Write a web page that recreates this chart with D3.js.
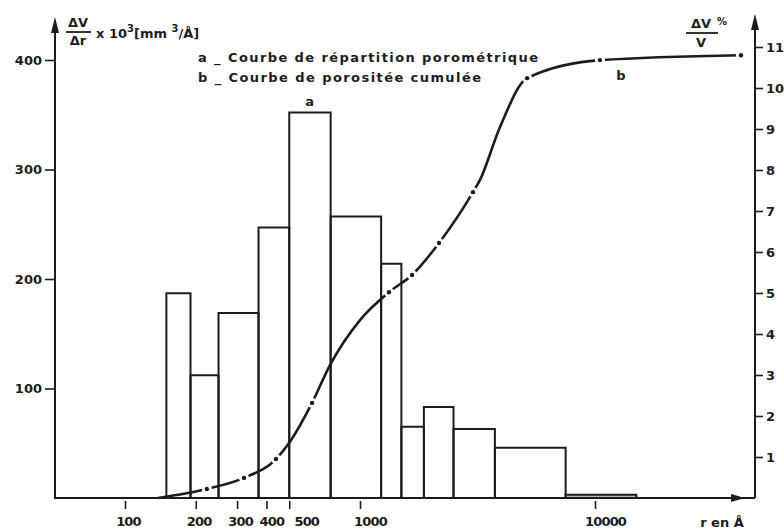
<!DOCTYPE html>
<html>
<head>
<meta charset="utf-8">
<script src="https://cdn.jsdelivr.net/npm/d3@7"></script>
<style>
  body { margin: 0; background: #fff; }
  text { font-family: "DejaVu Sans", sans-serif; fill: #1c1c1c; font-weight: bold; }
</style>
</head>
<body>
<div id="chart"></div>
<script>
// histogram bins (r en Å) and heights (ΔV/Δr x 10^3)
const binEdges = [150, 190, 250, 370, 500, 750, 1230, 1500, 1870, 2500, 3750, 7500, 15000]
const barValues = [187, 112, 169, 247, 352, 257, 214, 65, 83, 63, 46, 3]
const shadedBar = 11

// cumulative porosity curve (ΔV/V %)
const curveR = [138, 223, 321, 439, 499, 625, 745, 1000, 1328, 1665, 2169, 3025, 3241, 3943, 5140, 10500, 41800]
const curveV = [0, 0.22, 0.49, 0.95, 1.34, 2.32, 3.24, 4.34, 5.02, 5.44, 6.22, 7.46, 7.76, 9.05, 10.24, 10.68, 10.80]
const curveDots = [223, 321, 439, 625, 1328, 1665, 2169, 3025, 5140, 10500, 41800]

const xTicks = [100, 200, 300, 400, 500, 1000, 10000]
const leftTicks = [100, 200, 300, 400]
const rightTicks = [1, 2, 3, 4, 5, 6, 7, 8, 9, 10, 11]

const width = 784
const height = 529
const ink = "#1c1c1c"

const svg = d3.select("#chart")
  .append("svg")
  .attr("width", width)
  .attr("height", height)

const x = d3.scaleLog().domain([100, 10000]).range([125, 595])
const yL = d3.scaleLinear().domain([0, 400]).range([498, 60])
const yR = d3.scaleLinear().domain([0, 11]).range([498, 47])

const axisLeftX = 55
const axisRightX = 755

// curve b
const pts = curveR.map((r, i) => [x(r), yR(curveV[i])])
const line = d3.line().curve(d3.curveMonotoneX)
svg.append("path")
  .attr("d", line(pts))
  .attr("fill", "none")
  .attr("stroke", ink)
  .attr("stroke-width", 2.6)

const dotPts = curveDots.map(r => [x(r), yR(curveV[curveR.indexOf(r)])])
svg.selectAll(".halo").data(dotPts).enter().append("circle")
  .attr("cx", d => d[0]).attr("cy", d => d[1]).attr("r", 5)
  .attr("fill", "#fff")
svg.selectAll(".dot").data(dotPts).enter().append("circle")
  .attr("cx", d => d[0]).attr("cy", d => d[1]).attr("r", 2.2)
  .attr("fill", ink)

// bars a
const bins = barValues.map((v, i) => ({ x0: binEdges[i], x1: binEdges[i + 1], v, i }))
svg.selectAll(".bar").data(bins).enter().append("path")
  .attr("d", d => `M${x(d.x0)},${yL(0)}V${yL(d.v)}H${x(d.x1)}V${yL(0)}`)
  .attr("fill", d => d.i === shadedBar ? "#b8b8b8" : "none")
  .attr("stroke", ink)
  .attr("stroke-width", 2)

// axes lines
svg.append("path")
  .attr("d", `M${axisLeftX},22V498H${axisRightX}M${axisRightX},498V20`)
  .attr("fill", "none")
  .attr("stroke", ink)
  .attr("stroke-width", 2)

// arrows
svg.append("path").attr("d", `M${axisLeftX},17L${axisLeftX - 4},33L${axisLeftX + 4},33Z`).attr("fill", ink)
svg.append("path").attr("d", `M${axisRightX},14L${axisRightX - 4},30L${axisRightX + 4},30Z`).attr("fill", ink)
svg.append("path").attr("d", `M745,498L731,494L731,502Z`).attr("fill", ink)

function styleAxis(g) {
  g.select(".domain").remove()
  g.selectAll("line").attr("stroke", ink).attr("stroke-width", 1.6)
  g.selectAll("text").attr("font-size", 13).attr("fill", ink)
    .style("font-family", "'DejaVu Sans', sans-serif").style("font-weight", "bold")
}

// hand-lettered labels sit a little right of their ticks
const labelShift = d => d === 500 ? 17 : d >= 1000 ? 10 : d === 400 ? 5 : 3
svg.append("g")
  .attr("transform", "translate(0,501)")
  .call(d3.axisBottom(x).tickValues(xTicks).tickFormat(d3.format("d")).tickSize(8).tickPadding(8))
  .call(styleAxis)
  .call(g => g.selectAll("text").attr("dx", labelShift).attr("letter-spacing", -0.8))

svg.append("g")
  .attr("transform", `translate(${axisLeftX - 1},0)`)
  .call(d3.axisLeft(yL).tickValues(leftTicks).tickSize(9).tickPadding(3))
  .call(styleAxis)

svg.append("g")
  .attr("transform", `translate(${axisRightX + 1},0)`)
  .call(d3.axisRight(yR).tickValues(rightTicks).tickSize(7).tickPadding(3))
  .call(styleAxis)

// left title
svg.append("text").attr("x", 78).attr("y", 27).attr("text-anchor", "middle").attr("font-size", 13).text("ΔV")
svg.append("line").attr("x1", 66).attr("x2", 91).attr("y1", 32).attr("y2", 32).attr("stroke", ink).attr("stroke-width", 1.8)
svg.append("text").attr("x", 78).attr("y", 45).attr("text-anchor", "middle").attr("font-size", 13).text("Δr")
const t = svg.append("text").attr("x", 96).attr("y", 38).attr("font-size", 13)
t.append("tspan").text("x 10")
t.append("tspan").attr("dy", -6).attr("font-size", 10).text("3")
t.append("tspan").attr("dy", 6).text("[mm ")
t.append("tspan").attr("dy", -6).attr("font-size", 10).text("3")
t.append("tspan").attr("dy", 6).text("/Å]")

// right title
svg.append("text").attr("x", 701).attr("y", 28).attr("text-anchor", "middle").attr("font-size", 13).text("ΔV")
svg.append("text").attr("x", 717).attr("y", 25).attr("font-size", 10).text("%")
svg.append("line").attr("x1", 686).attr("x2", 718).attr("y1", 33).attr("y2", 33).attr("stroke", ink).attr("stroke-width", 1.8)
svg.append("text").attr("x", 701).attr("y", 47).attr("text-anchor", "middle").attr("font-size", 13).text("V")

// legend
svg.append("text").attr("x", 198).attr("y", 62).attr("font-size", 13)
  .attr("textLength", 340).attr("lengthAdjust", "spacing")
  .text("a _ Courbe  de répartition  porométrique")
svg.append("text").attr("x", 198).attr("y", 82).attr("font-size", 13)
  .attr("textLength", 283).attr("lengthAdjust", "spacing")
  .text("b _ Courbe  de porositée  cumulée")

// curve labels
svg.append("text").attr("x", x(610)).attr("y", 106).attr("text-anchor", "middle").attr("font-size", 13).text("a")
svg.append("text").attr("x", 621).attr("y", 80).attr("text-anchor", "middle").attr("font-size", 13).text("b")

svg.append("text").attr("x", 722).attr("y", 527).attr("text-anchor", "middle").attr("font-size", 13).text("r en Å")
</script>
</body>
</html>
